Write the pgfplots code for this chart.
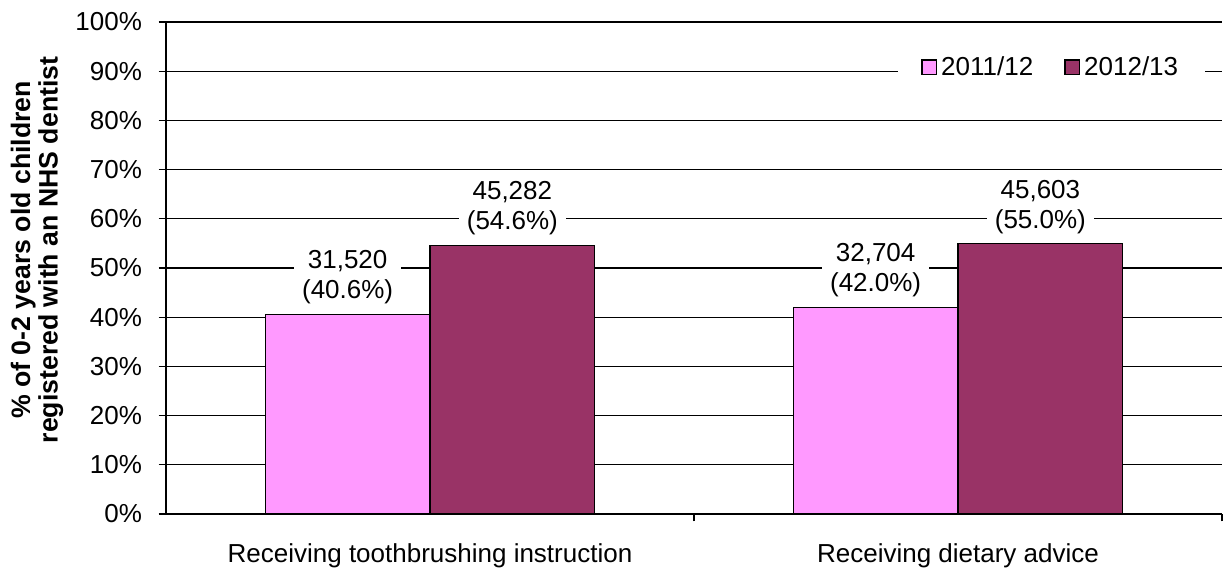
\documentclass[border=0pt]{standalone}
\usepackage{pgfplots}
\pgfplotsset{compat=1.18}
\usepackage{fontspec}
\setmainfont{Liberation Sans}
\definecolor{pinkbar}{HTML}{FF99FF}
\definecolor{maroonbar}{HTML}{993366}
\newcommand{\chartfont}{\fontsize{19.5}{22.5}\selectfont}
\begin{document}
\begin{tikzpicture}
	\path[use as bounding box] (-124.5pt,-39.75pt) rectangle (792.75pt,385.5pt);
	\begin{axis}[
			at={(0pt,0pt)}, anchor=south west,
			scale only axis, width=792pt, height=369pt,
			xmin=-0.5, xmax=1.5, ymin=0, ymax=100,
			axis lines*=left,
			axis line style={black, line width=1.6pt},
			ybar=0pt, bar width=0.312,
			ytick={0,10,...,100},
			yticklabels={0\%,10\%,20\%,30\%,40\%,50\%,60\%,70\%,80\%,90\%,100\%},
			ymajorgrids,
			major grid style={black, line width=1pt},
			tick align=outside,
			ytick style={black, line width=1pt},
			major tick length=5.5pt,
			xtick={0,1},
			xticklabels={Receiving toothbrushing instruction, Receiving dietary advice},
			x tick style={draw=none},
			extra x ticks={0.5,1.5},
			extra x tick labels={},
			extra x tick style={x tick style={draw=black, line width=1pt}, grid=none},
			tick label style={font=\chartfont},
			yticklabel style={xshift=-9pt},
			xticklabel style={yshift=-13pt},
			nodes near coords,
			point meta=explicit symbolic,
			every node near coord/.append style={font=\chartfont, align=center, fill=white, inner xsep=6pt, inner ysep=1pt, anchor=south, yshift=6pt},
			legend columns=2,
			legend style={at={(rel axis cs:0.984,0.908)}, anchor=east, draw=none, fill=white, font=\chartfont,
					inner xsep=17pt, inner ysep=1pt, nodes={inner xsep=3pt, inner ysep=1pt},
					/tikz/every even column/.append style={column sep=20pt}},
			legend image code/.code={\draw[#1, line width=1.2pt] (0pt,-5.5pt) rectangle (11pt,5.5pt);},
			legend cell align=left,
		]
		\addplot[fill=pinkbar, draw=black, line width=1pt]
		coordinates {
				(0,40.6) [31,520\\(40.6\%)]
				(1,42.0) [32,704\\(42.0\%)]
			};
		\addplot[fill=maroonbar, draw=black, line width=1pt]
		coordinates {
				(0,54.6) [45,282\\(54.6\%)]
				(1,55.0) [45,603\\(55.0\%)]
			};
		\legend{2011/12,2012/13}
	\end{axis}
	\node[rotate=90, align=center, inner sep=0pt, font=\fontsize{20}{20.5}\selectfont\bfseries] at (-96.75pt,198pt)
	{\% of 0-2 years old children\\registered with an NHS dentist};
\end{tikzpicture}
\end{document}
